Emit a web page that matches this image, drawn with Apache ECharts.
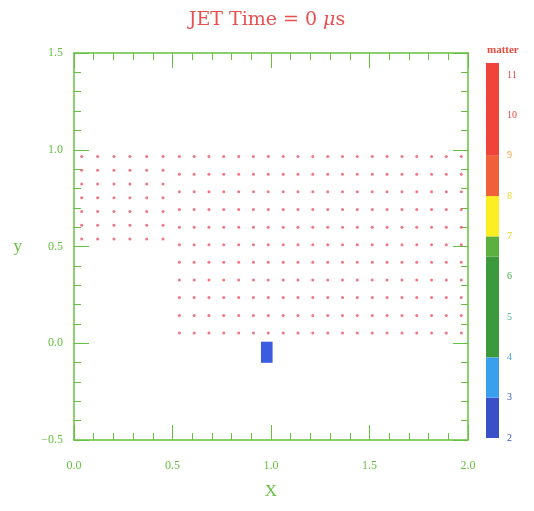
<!DOCTYPE html>
<html><head><meta charset="utf-8">
<script src="https://cdn.jsdelivr.net/npm/echarts@6/dist/echarts.min.js"></script>
<style>html,body{margin:0;padding:0;background:#fff}#c{width:534px;height:511px}</style>
</head><body><div id="c"></div>
<script>
// Particle grid (left block)
const leftX = [0.039, 0.120, 0.203, 0.284, 0.369, 0.452];
const leftY = [0.965, 0.894, 0.823, 0.752, 0.681, 0.610, 0.539];
// Particle grid (right block)
const rightX = [0.535,0.610,0.685,0.760,0.836,0.911,0.986,1.062,1.137,1.212,1.288,1.363,1.438,1.514,1.589,1.665,1.740,1.815,1.890,1.966];
const rightY = [0.965,0.874,0.783,0.691,0.600,0.509,0.418,0.327,0.236,0.144,0.053];
// Blue matter cell: [x0, x1, y0, y1]
const cellBox = [0.949, 1.008, -0.101, 0.008];
// Colorbar segments
const segLo = [2, 3, 4, 6.5, 7, 8, 9];
const segHi = [3, 4, 6.5, 7, 8, 9, 11.3];
const segColors = ['#3a4fc8', '#3aa0ee', '#3c9a3c', '#5cb040', '#fbee22', '#f0603a', '#f0443a'];
const cbTicks = [2,3,4,5,6,7,8,9,10,11];
const cbTickColors = ['#3355cc','#3355cc','#44a8ee','#44aa99','#44aa44','#d8d820','#e8d820','#f0a040','#e84a40','#e84a40'];

const pts = [];
leftY.forEach(y => leftX.forEach(x => pts.push([x, y])));
rightY.forEach(y => rightX.forEach(x => pts.push([x, y])));
const segData = segLo.map((lo, i) => [lo, segHi[i], i]);

const G = '#66c040';
const serif = '"Liberation Serif","DejaVu Serif",serif';
const dserif = '"DejaVu Serif","Liberation Serif",serif';
function mainAxis(pos, labels) {
  return {
    type: 'value', position: pos, gridIndex: 0,
    axisLine: {show: true, onZero: false, lineStyle: {color: G, width: 1.5}},
    axisTick: {show: true, inside: true, length: 15, lineStyle: {color: G, width: 1}},
    minorTick: {show: true, splitNumber: 5, length: 7, lineStyle: {color: G, width: 1}},
    splitLine: {show: false},
    axisLabel: {show: labels, color: G, fontFamily: serif, fontSize: 12, formatter: v => v < 0 ? '\u2212' + Math.abs(v).toFixed(1) : v.toFixed(1)}
  };
}
const xb = Object.assign(mainAxis('bottom', true), {min: 0, max: 2, interval: 0.5, name: 'X', nameLocation: 'middle', nameGap: 43, nameTextStyle: {color: G, fontFamily: serif, fontSize: 17}});
xb.axisLabel.margin = 20;
const xt = Object.assign(mainAxis('top', false), {min: 0, max: 2, interval: 0.5});
const yl = Object.assign(mainAxis('left', true), {min: -0.5, max: 1.5, interval: 0.5, name: 'y', nameLocation: 'middle', nameGap: 52, nameRotate: 0, nameTextStyle: {color: G, fontFamily: serif, fontSize: 17}});
yl.axisLabel.margin = 11;
const yr = Object.assign(mainAxis('right', false), {min: -0.5, max: 1.5, interval: 0.5});

const chart = echarts.init(document.getElementById('c'), null, {renderer: 'canvas'});
chart.setOption({
  animation: false,
  backgroundColor: '#fff',
  title: [
    {text: '{a|JET Time = 0 }{b|\u03bc}{a|s}', left: 'center', top: 6,
     textStyle: {fontWeight: 'normal', rich: {a: {color: '#e85050', fontFamily: dserif, fontSize: 19, fontWeight: 'normal'}, b: {color: '#e85050', fontFamily: dserif, fontSize: 19, fontStyle: 'italic', fontWeight: 'normal'}}}},
    {text: 'matter', left: 482, top: 40, textStyle: {color: '#e84a40', fontFamily: serif, fontSize: 11, fontWeight: 'bold'}}
  ],
  grid: [
    {left: 74, top: 53, width: 394, height: 387},
    {left: 486, top: 63, width: 13, height: 375}
  ],
  xAxis: [xb, xt, {type: 'value', gridIndex: 1, min: 0, max: 1, show: false}],
  yAxis: [yl, yr, {
    type: 'value', gridIndex: 1, position: 'right', min: 2, max: 11.3, interval: 1,
    axisLine: {show: false}, axisTick: {show: false}, splitLine: {show: false},
    axisLabel: {show: true, margin: 8, fontFamily: serif, fontSize: 10,
      formatter: v => cbTicks.indexOf(v) >= 0 ? String(v) : '',
      color: (v) => { const i = cbTicks.indexOf(Number(v)); return i >= 0 ? cbTickColors[i] : '#fff'; }}
  }],
  series: [
    {type: 'scatter', xAxisIndex: 0, yAxisIndex: 0, data: pts, symbolSize: 3,
     itemStyle: {color: '#ea5468'}},
    {type: 'custom', xAxisIndex: 0, yAxisIndex: 0, data: [cellBox],
     renderItem: (params, api) => {
       const p0 = api.coord([api.value(0), api.value(3)]);
       const p1 = api.coord([api.value(1), api.value(2)]);
       return {type: 'rect', shape: {x: p0[0], y: p0[1], width: p1[0] - p0[0], height: p1[1] - p0[1]}, style: {fill: '#3c5ce0'}};
     }},
    {type: 'custom', xAxisIndex: 2, yAxisIndex: 2, data: segData,
     renderItem: (params, api) => {
       const p0 = api.coord([0, api.value(1)]);
       const p1 = api.coord([1, api.value(0)]);
       return {type: 'rect', shape: {x: p0[0], y: p0[1], width: p1[0] - p0[0], height: p1[1] - p0[1]}, style: {fill: segColors[api.value(2)]}};
     }}
  ]
});
</script></body></html>
